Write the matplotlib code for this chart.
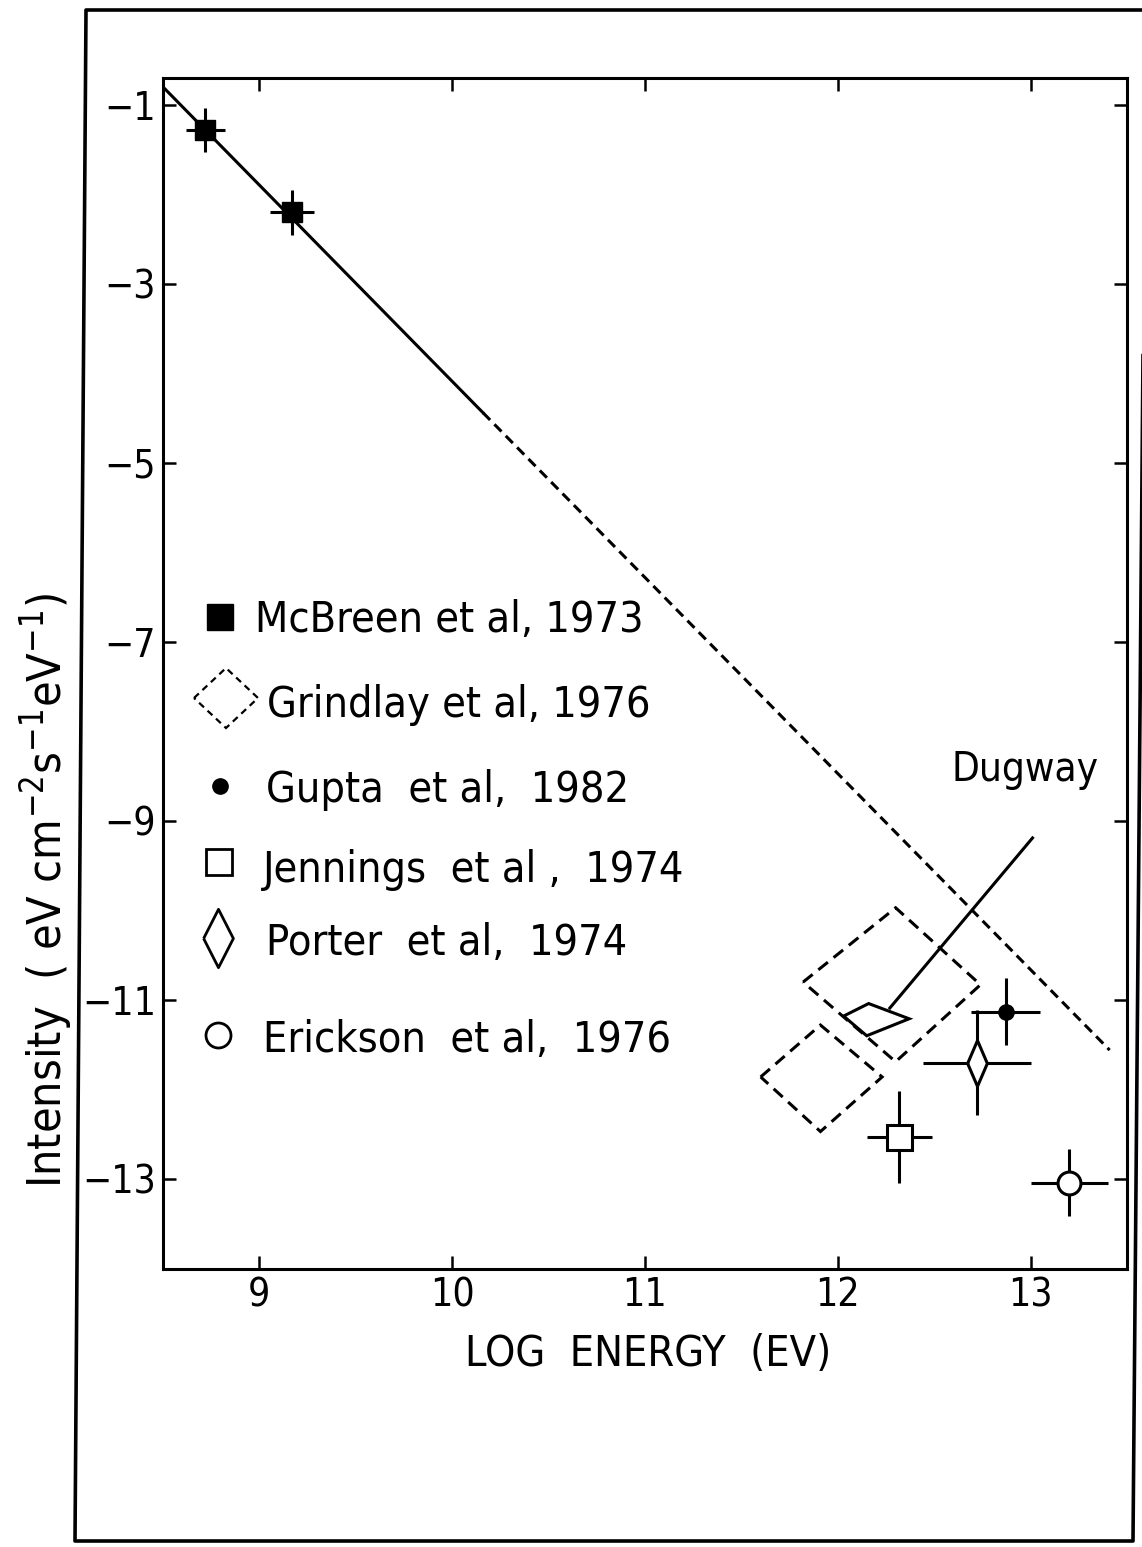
import matplotlib
matplotlib.use("Agg")
import matplotlib.pyplot as plt
from matplotlib.lines import Line2D
from matplotlib.patches import Polygon

plt.rcParams['font.family'] = ['DejaVu Sans']
plt.rcParams['font.stretch'] = 'condensed'
plt.rcParams['mathtext.fontset'] = 'custom'
plt.rcParams['mathtext.rm'] = 'DejaVu Sans:stretch=condensed'
plt.rcParams['mathtext.it'] = 'DejaVu Sans:stretch=condensed'

# power-law fit: solid where measured, dashed extrapolation
fit_solid_x = [8.5, 10.16]
fit_solid_y = [-0.80, -4.44]
fit_dash_x = [10.16, 13.41]
fit_dash_y = [-4.44, -11.56]

# McBreen et al 1973
mcb_x = [8.72, 9.17]
mcb_y = [-1.28, -2.20]
mcb_xerr = [0.10, 0.115]
mcb_yerr = [0.25, 0.25]

# Gupta et al 1982
gup_x = [12.87]
gup_y = [-11.13]
gup_xerr = [0.18]
gup_yerr = [0.37]

# Jennings et al 1974
jen_x = [12.32]
jen_y = [-12.53]
jen_xerr = [0.17]
jen_yerr = [0.51]

# Porter et al 1974
por_x = [12.72]
por_y = [-11.70]
por_xerr = [0.28]
por_yerr = [0.59]

# Erickson et al 1976
eri_x = [13.20]
eri_y = [-13.04]
eri_xerr = [0.20]
eri_yerr = [0.37]

# Grindlay et al 1976 allowed regions (diamonds)
grind_hi_x = [11.82, 12.30, 12.74, 12.30]
grind_hi_y = [-10.80, -9.97, -10.83, -11.69]
grind_lo_x = [11.60, 11.91, 12.23, 11.91]
grind_lo_y = [-11.86, -11.28, -11.86, -12.47]

# Dugway region and its pointer
dug_x = [12.03, 12.16, 12.37, 12.15]
dug_y = [-11.18, -11.04, -11.21, -11.40]
dug_ptr_x = [12.27, 13.01]
dug_ptr_y = [-11.09, -9.19]

xticks = [9, 10, 11, 12, 13]
yticks = [-1, -3, -5, -7, -9, -11, -13]

legend_labels = ["McBreen et al, 1973", "Grindlay et al, 1976", "Gupta  et al,  1982",
                 "Jennings  et al ,  1974", "Porter  et al,  1974", "Erickson  et al,  1976"]

W, H = 1142, 1547
fig = plt.figure(figsize=(W / 100, H / 100), dpi=100)
ax = fig.add_axes([163 / W, 1 - 1268.5 / H, 964 / W, 1190.5 / H])

lw = 2.2
ax.plot(fit_solid_x, fit_solid_y, color='k', lw=lw)
ax.plot(fit_dash_x, fit_dash_y, color='k', lw=lw, dashes=(3.3, 2.0))

for gx, gy in [(grind_hi_x, grind_hi_y), (grind_lo_x, grind_lo_y)]:
    ax.add_patch(Polygon(list(zip(gx, gy)), closed=True, fill=False, ec='k', lw=lw,
                         linestyle=(0, (4.0, 2.4))))

ax.add_patch(Polygon(list(zip(dug_x, dug_y)), closed=True, fill=False, ec='k', lw=lw))
ax.plot(dug_ptr_x, dug_ptr_y, color='k', lw=lw)
ax.text(12.97, -8.43, "Dugway", ha='center', va='center', fontsize=29)

eb = dict(ecolor='k', elinewidth=lw, capsize=0, ls='none', mec='k')
ax.errorbar(mcb_x, mcb_y, xerr=mcb_xerr, yerr=mcb_yerr, fmt='s', ms=14.5, mfc='k', mew=1, **eb)
ax.errorbar(gup_x, gup_y, xerr=gup_xerr, yerr=gup_yerr, fmt='o', ms=11, mfc='k', mew=1, **eb)
ax.errorbar(jen_x, jen_y, xerr=jen_xerr, yerr=jen_yerr, fmt='s', ms=18, mfc='w', mew=lw, **eb)
thin_diamond = [(-0.43, 0), (0, 1), (0.43, 0), (0, -1), (-0.43, 0)]
ax.errorbar(por_x, por_y, xerr=por_xerr, yerr=por_yerr, fmt='none', **eb)
ax.plot(por_x, por_y, marker=thin_diamond, ms=33, mfc='w', mec='k', mew=lw, ls='none', zorder=3)
ax.errorbar(eri_x, eri_y, xerr=eri_xerr, yerr=eri_yerr, fmt='o', ms=16.5, mfc='w', mew=lw, **eb)

ax.set_xlim(8.5, 13.5)
ax.set_ylim(-14.0, -0.7)
ax.set_xticks(xticks)
ax.set_yticks(yticks)
ax.tick_params(direction='in', length=9.5, width=1.8, top=True, right=True,
               labelsize=28)
ax.tick_params(axis='x', pad=5.5)
ax.tick_params(axis='y', pad=5)
for s in ax.spines.values():
    s.set_linewidth(lw)

ax.set_xlabel("LOG  ENERGY  (EV)", fontsize=31, va='top')
ax.xaxis.set_label_coords(0.503, -0.054)
ax.set_ylabel(r"Intensity  ( eV cm$^{-2}$s$^{-1}$eV$^{-1}$)", fontsize=33.5,
              va='center', ha='center', rotation_mode='default')
ax.yaxis.set_label_coords((46 - 163) / 964, (1268.5 - 890) / 1190.5)


# hand-drawn key in the left half of the plot
def px(x, y):
    return (x - 163) / 964, (1268.5 - y) / 1190.5


key_marks = [
    dict(marker='s', ms=18.5, mfc='k', mew=1),
    None,
    dict(marker='o', ms=11, mfc='k', mew=1),
    dict(marker='s', ms=18.5, mfc='w', mew=2.0),
    dict(marker=[(-0.51, 0), (0, 1), (0.51, 0), (0, -1), (-0.51, 0)], ms=42, mfc='w', mew=2.0),
    dict(marker='o', ms=18, mfc='w', mew=2.0),
]
key_centres = [(220, 617), (226, 698), (220, 786), (219, 862), (218, 938), (218, 1035)]
key_text_x = [255, 267, 266, 263, 266, 263]
key_base_y = [632, 717, 802, 882, 955, 1052]

for mk, (cx, cy), tx, by, lab in zip(key_marks, key_centres, key_text_x, key_base_y, legend_labels):
    fx, fy = px(cx, cy)
    if mk is None:
        hw, hh = 32 / 964, 30 / 1190.5
        ax.add_patch(Polygon([(fx - hw, fy), (fx, fy + hh), (fx + hw, fy), (fx, fy - hh)],
                             closed=True, fill=False, ec='k', lw=1.6,
                             linestyle=(0, (3.0, 2.2)), transform=ax.transAxes))
    else:
        ax.plot([fx], [fy], ls='none', mec='k', transform=ax.transAxes, **mk)
    lx, ly = px(tx, by)
    ax.text(lx, ly, lab, transform=ax.transAxes, va='baseline', ha='left', fontsize=31)

# outer frame around the figure
frame_x = [1146, 86, 75, 1133, 1146]
frame_y = [10, 10, 1541, 1541, 0]
fig.add_artist(Line2D([x / W for x in frame_x], [1 - y / H for y in frame_y],
                      color='k', lw=2.6, transform=fig.transFigure))

fig.savefig("out.png", dpi=100)
